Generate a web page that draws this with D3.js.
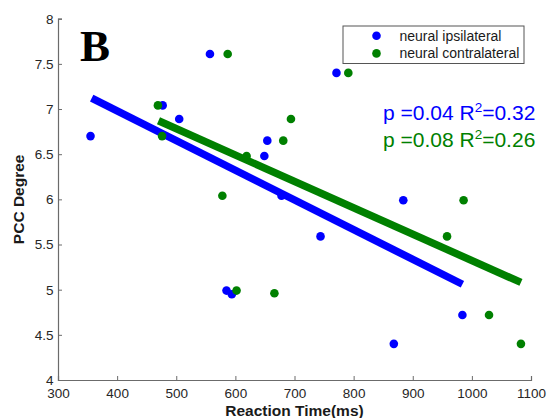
<!DOCTYPE html>
<html>
<head>
<meta charset="utf-8">
<script src="https://cdn.jsdelivr.net/npm/d3@7"></script>
<style>
  body { margin: 0; background: #fff; }
  text { font-family: Arial, "Liberation Sans", sans-serif; }
</style>
</head>
<body>
<div id="container"></div>
<script>
// reaction time (ms) and PCC degree
const ipsiRT = [355, 477, 505, 557, 649, 654, 678, 771, 884, 585, 594, 744, 984, 868];
const ipsiPCC = [6.70, 7.04, 6.89, 7.61, 6.48, 6.65, 6.04, 7.40, 5.99, 4.99, 4.95, 5.59, 4.72, 4.40];
const contraRT = [469, 476, 587, 619, 578, 791, 694, 681, 986, 602, 666, 958, 1029, 1083];
const contraPCC = [7.04, 6.70, 7.61, 6.48, 6.04, 7.40, 6.89, 6.65, 5.99, 4.99, 4.96, 5.59, 4.72, 4.40];

// fitted line end points
const ipsiFitRT = [357, 984];
const ipsiFitPCC = [7.12, 5.06];
const contraFitRT = [470, 1083];
const contraFitPCC = [6.87, 5.08];

const xTicks = [300, 400, 500, 600, 700, 800, 900, 1000, 1100];
const yTicks = [4, 4.5, 5, 5.5, 6, 6.5, 7, 7.5, 8];

const seriesNames = ["neural ipsilateral", "neural contralateral"];
const statLabels = [["p =0.04 R", "=0.32"], ["p =0.08 R", "=0.26"]];

const width = 547, height = 418;
const margin = {left: 58, right: 16, top: 18.7, bottom: 38};
const blue = "#0000ff", green = "#008000";

const svg = d3.select("#container").append("svg")
    .attr("width", width)
    .attr("height", height);

const x = d3.scaleLinear().domain([300, 1100]).range([margin.left, width - margin.right]);
const y = d3.scaleLinear().domain([4, 8]).range([height - margin.bottom, margin.top]);

// axes (ticks point inward, like matlab)
const xAxis = svg.append("g")
    .attr("transform", "translate(0," + y(4) + ")")
    .call(d3.axisBottom(x).tickValues(xTicks).tickSize(-4).tickPadding(8.5).tickFormat(d3.format("d")));
const yAxis = svg.append("g")
    .attr("transform", "translate(" + x(300) + ",0)")
    .call(d3.axisLeft(y).tickValues(yTicks).tickSize(-4).tickPadding(4.5).tickFormat(d => d));

[xAxis, yAxis].forEach(function(g) {
    g.select(".domain").attr("stroke", "#6b6b6b").attr("stroke-width", 1.2);
    g.selectAll(".tick line").attr("stroke", "#6b6b6b");
    g.selectAll(".tick text").attr("fill", "#262626").style("font-size", "13.5px");
});
xAxis.selectAll(".tick text").attr("dy", "0.71em");

// axis titles
svg.append("text")
    .attr("x", x(700))
    .attr("y", 416)
    .attr("text-anchor", "middle")
    .style("font-size", "15.5px")
    .style("font-weight", "bold")
    .attr("fill", "#1a1a1a")
    .text("Reaction Time(ms)");

svg.append("text")
    .attr("transform", "translate(24," + y(6) + ") rotate(-90)")
    .attr("text-anchor", "middle")
    .style("font-size", "15.5px")
    .style("font-weight", "bold")
    .attr("fill", "#1a1a1a")
    .text("PCC Degree");

// panel letter
svg.append("text")
    .attr("x", 80)
    .attr("y", 61)
    .style("font-family", "'Liberation Serif', 'Times New Roman', serif")
    .style("font-size", "45px")
    .style("font-weight", "bold")
    .text("B");

// regression lines
const line = d3.line().x(d => x(d[0])).y(d => y(d[1]));
svg.append("path")
    .datum(d3.zip(ipsiFitRT, ipsiFitPCC))
    .attr("d", line)
    .attr("stroke", blue)
    .attr("stroke-width", 7.5)
    .attr("fill", "none");
svg.append("path")
    .datum(d3.zip(contraFitRT, contraFitPCC))
    .attr("d", line)
    .attr("stroke", green)
    .attr("stroke-width", 7.5)
    .attr("fill", "none");

// points
svg.append("g").selectAll("circle")
    .data(d3.zip(ipsiRT, ipsiPCC))
    .enter().append("circle")
    .attr("cx", d => x(d[0]))
    .attr("cy", d => y(d[1]))
    .attr("r", 4.3)
    .attr("fill", blue);
svg.append("g").selectAll("circle")
    .data(d3.zip(contraRT, contraPCC))
    .enter().append("circle")
    .attr("cx", d => x(d[0]))
    .attr("cy", d => y(d[1]))
    .attr("r", 4.3)
    .attr("fill", green);

// legend
const legend = svg.append("g");
legend.append("rect")
    .attr("x", 343).attr("y", 26)
    .attr("width", 181).attr("height", 37.5)
    .attr("fill", "#fff")
    .attr("stroke", "#555")
    .attr("stroke-width", 1);
seriesNames.forEach(function(name, i) {
    legend.append("circle")
        .attr("cx", 376.5).attr("cy", 35.8 + i * 17.6)
        .attr("r", 4.3)
        .attr("fill", i === 0 ? blue : green);
    legend.append("text")
        .attr("x", 399.5).attr("y", 35.8 + i * 17.6)
        .attr("dy", "0.36em")
        .style("font-size", "14px")
        .attr("fill", "#1a1a1a")
        .text(name);
});

// stats text
statLabels.forEach(function(parts, i) {
    const t = svg.append("text")
        .attr("x", 383)
        .attr("y", 120 + i * 26.5)
        .style("font-size", "21px")
        .attr("fill", i === 0 ? blue : green);
    t.append("tspan").text(parts[0]);
    t.append("tspan").attr("dy", -8).style("font-size", "13.5px").text("2");
    t.append("tspan").attr("dy", 8).text(parts[1]);
});
</script>
</body>
</html>
